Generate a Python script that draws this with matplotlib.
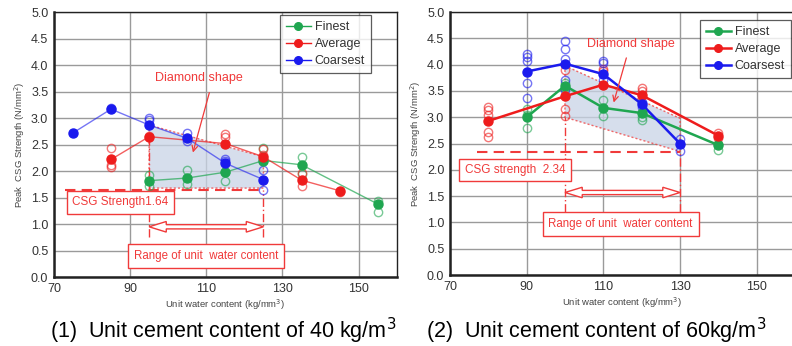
import matplotlib
matplotlib.use("Agg")
import matplotlib.pyplot as plt
from matplotlib.patches import Polygon

plt.rcParams["font.family"] = ["Liberation Sans", "DejaVu Sans"]

GREEN, RED, BLUE = "#1fa650", "#ee1c1c", "#1a1aee"
ANNO = "#f03a3a"
SHADE = "#c9d4e6"

# ---- panel 1: unit cement 40 kg/m3 ----
p1_fine_x = [95, 105, 115, 125, 135, 155]
p1_fine_y = [1.82, 1.87, 1.98, 2.20, 2.12, 1.38]
p1_avg_x = [85, 95, 115, 125, 135, 145]
p1_avg_y = [2.22, 2.65, 2.52, 2.27, 1.83, 1.63]
p1_coarse_x = [75, 85, 95, 105, 115, 125]
p1_coarse_y = [2.72, 3.17, 2.87, 2.62, 2.15, 1.84]
# individual specimens (open circles)
p1_fine_ox = [95, 95, 105, 105, 115, 115, 125, 125, 135, 135, 155, 155]
p1_fine_oy = [1.92, 1.72, 2.02, 1.75, 1.82, 1.98, 2.43, 2.22, 2.27, 1.95, 1.44, 1.22]
p1_avg_ox = [85, 85, 85, 95, 115, 115, 125, 125, 135, 135, 145]
p1_avg_oy = [2.43, 2.12, 2.08, 2.66, 2.70, 2.65, 2.42, 2.30, 1.97, 1.72, 1.60]
p1_coarse_ox = [85, 95, 95, 105, 105, 115, 115, 125, 125]
p1_coarse_oy = [3.20, 3.00, 2.96, 2.72, 2.57, 2.20, 2.23, 2.03, 1.65]
p1_diamond = [(95, 2.87), (125, 2.27), (125, 1.68), (95, 1.68)]
p1_csg = 1.64
p1_range = (95, 125)

# ---- panel 2: unit cement 60 kg/m3 ----
p2_fine_x = [90, 100, 110, 120, 140]
p2_fine_y = [3.00, 3.60, 3.18, 3.08, 2.47]
p2_avg_x = [80, 100, 110, 120, 140]
p2_avg_y = [2.93, 3.40, 3.62, 3.42, 2.65]
p2_coarse_x = [90, 100, 110, 120, 130]
p2_coarse_y = [3.87, 4.02, 3.82, 3.25, 2.50]
p2_fine_ox = [90, 90, 90, 100, 100, 110, 110, 120, 120, 140, 140]
p2_fine_oy = [3.15, 2.80, 3.05, 3.65, 3.55, 3.33, 3.02, 3.00, 2.95, 2.50, 2.38]
p2_avg_ox = [80, 80, 80, 80, 80, 100, 100, 100, 110, 110, 120, 120, 140, 140]
p2_avg_oy = [3.20, 3.13, 3.05, 2.72, 2.62, 3.90, 3.15, 3.02, 3.92, 3.88, 3.56, 3.50, 2.70, 2.60]
p2_coarse_ox = [90, 90, 90, 90, 90, 100, 100, 100, 100, 100, 110, 110, 110, 120, 120, 130, 130]
p2_coarse_oy = [4.20, 4.15, 4.07, 3.65, 3.37, 4.45, 4.30, 4.10, 3.70, 3.52,
                4.07, 4.04, 3.70, 3.30, 3.20, 2.58, 2.35]
p2_diamond = [(100, 3.98), (130, 2.98), (130, 2.35), (100, 3.00)]
p2_csg = 2.34
p2_range = (100, 130)

XTICKS = [70, 90, 110, 130, 150]
YTICKS = [0.0, 0.5, 1.0, 1.5, 2.0, 2.5, 3.0, 3.5, 4.0, 4.5, 5.0]


def base_axes(ax):
    ax.set_xlim(70, 160)
    ax.set_ylim(0, 5)
    ax.set_xticks(XTICKS)
    ax.set_yticks(YTICKS)
    ax.set_yticklabels([f"{v:.1f}" for v in YTICKS])
    ax.grid(True, color="#9a9a9a", lw=1.0)
    ax.set_axisbelow(True)
    ax.tick_params(labelsize=9, colors="#333333", length=0, pad=4)
    for s in ax.spines.values():
        s.set_color("#222222")
        s.set_linewidth(1.0)
    ax.spines["left"].set_linewidth(1.8)
    ax.spines["bottom"].set_linewidth(1.8)
    ax.set_xlabel("Unit water content (kg/mm$^3$)", fontsize=6.8, color="#444444", labelpad=2)
    ax.set_ylabel("Peak  CSG Strength (N/mm$^2$)", fontsize=6.8, color="#444444", labelpad=3)


def series(ax, x, y, ox, oy, color, label, lw, alpha):
    ax.plot(ox, oy, "o", ms=6, mfc="none", mec=color, mew=1.0, alpha=0.6, zorder=3)
    ax.plot(x, y, "-", color=color, lw=lw, alpha=alpha, zorder=4)
    ax.plot(x, y, "o", ms=6.5, color=color, zorder=5)
    ax.plot([], [], "-o", color=color, lw=lw, ms=5.5, label=label)


def double_arrow(ax, x0, x1, y):
    # hollow double-headed arrow outline (head ~4.5 units long)
    hl, hw, bw = 4.5, 0.10, 0.04
    pts = [(x0, y), (x0 + hl, y + hw), (x0 + hl, y + bw), (x1 - hl, y + bw),
           (x1 - hl, y + hw), (x1, y), (x1 - hl, y - hw), (x1 - hl, y - bw),
           (x0 + hl, y - bw), (x0 + hl, y - hw)]
    ax.add_patch(Polygon(pts, closed=True, fc="white", ec=ANNO, lw=1.0, zorder=6))


def annotate(ax, diamond, csg, rng, csg_x0, csg_text, csg_box, arr_y, vtop, vbottom,
             range_box, dia_text, dia_arrow):
    ax.add_patch(Polygon(diamond, closed=True, fc=SHADE, ec=ANNO, lw=1.0,
                         ls=(0, (1.5, 1.5)), alpha=0.75, zorder=2))
    ax.plot([csg_x0, rng[1]], [csg, csg], color=ANNO, lw=1.5, ls=(0, (5, 3)), zorder=3)
    ax.plot([rng[0], rng[0]], [vbottom, vtop], color=ANNO, lw=1.0,
            ls=(0, (6, 2, 1, 2)), zorder=3)
    ax.plot([rng[1], rng[1]], [vbottom, csg], color=ANNO, lw=1.0,
            ls=(0, (6, 2, 1, 2)), zorder=3)
    ax.text(csg_box[0], csg_box[1], csg_text, color=ANNO, fontsize=8.5, ha="center",
            va="center", zorder=6,
            bbox=dict(boxstyle="square,pad=0.45", fc="white", ec=ANNO, lw=1.0))
    double_arrow(ax, rng[0], rng[1], arr_y)
    ax.text(range_box[0], range_box[1], "Range of unit  water content", color=ANNO,
            fontsize=8.3, ha="center", va="center", zorder=6,
            bbox=dict(boxstyle="square,pad=0.5", fc="white", ec=ANNO, lw=1.0))
    ax.text(dia_text[0], dia_text[1], "Diamond shape", color=ANNO, fontsize=9,
            ha="center", va="center", zorder=6)
    ax.annotate("", xy=dia_arrow[1], xytext=dia_arrow[0],
                arrowprops=dict(arrowstyle="->", color=ANNO, lw=0.9), zorder=6)


fig = plt.figure(figsize=(7.92, 3.46), dpi=100)
ax1 = fig.add_axes([0.068, 0.199, 0.433, 0.766])
ax2 = fig.add_axes([0.568, 0.205, 0.436, 0.760])
for ax in (ax1, ax2):
    base_axes(ax)

annotate(ax1, p1_diamond, p1_csg, p1_range, 73, "CSG Strength1.64", (87.5, 1.41), 0.95,
         2.65, 0.75, (110, 0.40), (108, 3.75), ((111, 3.53), (106.3, 2.3)))
series(ax1, p1_fine_x, p1_fine_y, p1_fine_ox, p1_fine_oy, GREEN, "Finest", 1.0, 0.7)
series(ax1, p1_avg_x, p1_avg_y, p1_avg_ox, p1_avg_oy, RED, "Average", 1.0, 0.7)
series(ax1, p1_coarse_x, p1_coarse_y, p1_coarse_ox, p1_coarse_oy, BLUE, "Coarsest", 1.0, 0.6)

annotate(ax2, p2_diamond, p2_csg, p2_range, 77, "CSG strength  2.34", (87, 2.0), 1.57,
         3.0, 1.2, (114.5, 0.97), (117.3, 4.4), ((116.2, 4.18), (112.5, 3.23)))
series(ax2, p2_fine_x, p2_fine_y, p2_fine_ox, p2_fine_oy, GREEN, "Finest", 1.8, 1.0)
series(ax2, p2_avg_x, p2_avg_y, p2_avg_ox, p2_avg_oy, RED, "Average", 1.8, 1.0)
series(ax2, p2_coarse_x, p2_coarse_y, p2_coarse_ox, p2_coarse_oy, BLUE, "Coarsest", 1.8, 1.0)

for ax, loc in ((ax1, (0.64, 0.745)), (ax2, (0.705, 0.725))):
    leg = ax.legend(loc="lower left", bbox_to_anchor=loc, fontsize=9, frameon=True,
                    fancybox=False, handlelength=2.0, handletextpad=0.3,
                    borderpad=0.5, labelspacing=0.4)
    leg.get_frame().set_edgecolor("#333333")
    leg.get_frame().set_linewidth(0.9)
    for t in leg.get_texts():
        t.set_color("#333333")

fig.text(0.063, 0.045, "(1)  Unit cement content of 40 kg/m$^3$", fontsize=15.5, va="center")
fig.text(0.538, 0.045, "(2)  Unit cement content of 60kg/m$^3$", fontsize=15.5, va="center")

fig.savefig("out.png", dpi=100)
